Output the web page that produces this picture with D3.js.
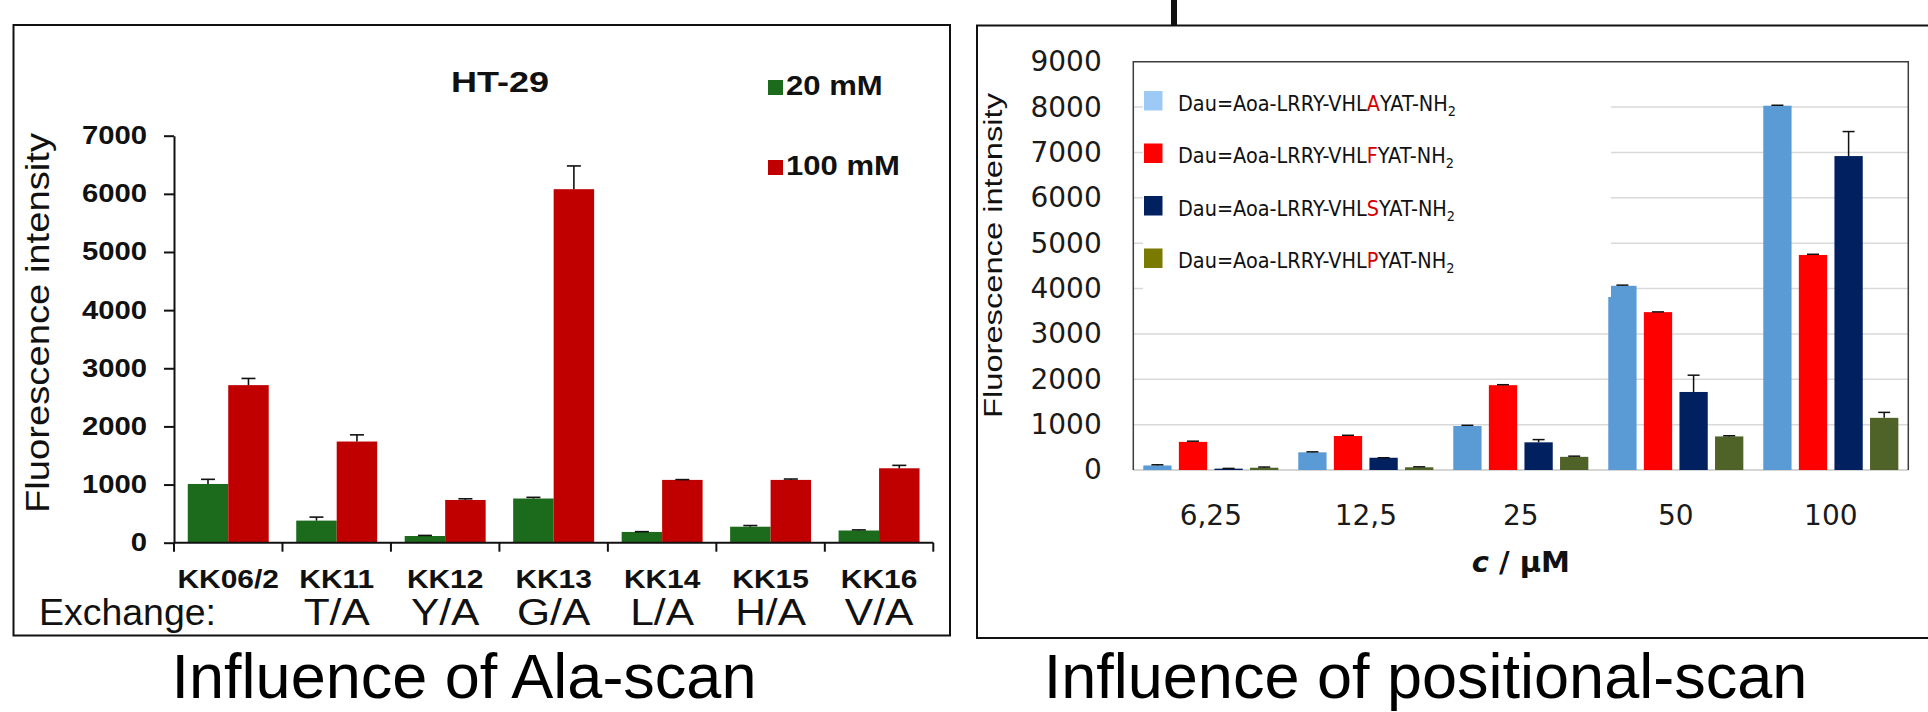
<!DOCTYPE html>
<html>
<head>
<meta charset="utf-8">
<script src="https://cdn.jsdelivr.net/npm/d3@7/dist/d3.min.js"></script>
<style>
  body { margin: 0; background: #fff; }
  svg { display: block; }
  .arial { font-family: "Liberation Sans", Arial, sans-serif; }
  .tahoma { font-family: "DejaVu Sans", Verdana, sans-serif; }
</style>
</head>
<body>
<svg id="chart" width="1928" height="712"></svg>
<script>
// left panel: Ala-scan, HT-29
const alaCompounds = ['KK06/2', 'KK11', 'KK12', 'KK13', 'KK14', 'KK15', 'KK16'];
const alaExchange = ['', 'T/A', 'Y/A', 'G/A', 'L/A', 'H/A', 'V/A'];
const alaSeries = ['20 mM', '100 mM'];
const ala20 = [1010, 380, 115, 760, 185, 275, 210];
const ala20Err = [80, 60, 10, 20, 5, 20, 10];
const ala100 = [2710, 1740, 735, 6080, 1080, 1080, 1280];
const ala100Err = [115, 115, 20, 400, 5, 15, 50];
const alaTicks = [0, 1000, 2000, 3000, 4000, 5000, 6000, 7000];

// right panel: positional scan
const posConc = ['6,25', '12,5', '25', '50', '100'];
const posLetters = ['A', 'F', 'S', 'P'];
const posA = [100, 390, 970, 4060, 8030];
const posAErr = [15, 10, 15, 15, 10];
const posF = [620, 750, 1870, 3480, 4740];
const posFErr = [15, 15, 10, 5, 15];
const posS = [30, 270, 610, 1720, 6920];
const posSErr = [5, 0, 60, 370, 540];
const posP = [50, 60, 290, 740, 1150];
const posPErr = [15, 10, 15, 15, 120];
const posTicks = [0, 1000, 2000, 3000, 4000, 5000, 6000, 7000, 8000, 9000];

const alaColors = { '20 mM': '#1c6b1c', '100 mM': '#c00000' };
const posBarColors = { A: '#5b9bd5', F: '#ff0000', S: '#002060', P: '#4f6228' };
const posKeyColors = { A: '#9ccaf5', F: '#ff0000', S: '#002060', P: '#7a7a00' };

// the left figure was pasted in wider than its fonts: widen glyphs by k
const stretch = (sel, k) => sel.each(function () {
  const w = this.getComputedTextLength();
  if (w > 0) {
    d3.select(this).attr('textLength', w * k).attr('lengthAdjust', 'spacingAndGlyphs');
  }
});

const svg = d3.select('#chart');

/* ---------- frames ---------- */
svg.append('rect')
  .attr('x', 13.5).attr('y', 25).attr('width', 936.5).attr('height', 610.5)
  .attr('fill', 'none').attr('stroke', '#111').attr('stroke-width', 2);
svg.append('rect')
  .attr('x', 977).attr('y', 25.5).attr('width', 960).attr('height', 612.5)
  .attr('fill', 'none').attr('stroke', '#111').attr('stroke-width', 2);
svg.append('rect')
  .attr('x', 1171).attr('y', 0).attr('width', 6).attr('height', 26)
  .attr('fill', '#111');

/* ---------- left: Ala-scan ---------- */
const left = svg.append('g').classed('arial', true);
const yA = d3.scaleLinear().domain([0, 7000]).range([542.7, 135.7]);
const xA = d3.scaleBand().domain(alaCompounds).range([174, 933.3]);
const xAin = d3.scaleBand().domain(alaSeries).range([0, xA.bandwidth()]).paddingOuter(0.34);

const alaRows = [];
alaCompounds.forEach((c, i) => {
  alaRows.push({ c, s: '20 mM', v: ala20[i], e: ala20Err[i] });
  alaRows.push({ c, s: '100 mM', v: ala100[i], e: ala100Err[i] });
});

left.append('g')
  .selectAll('rect')
  .data(alaRows)
  .enter()
  .append('rect')
  .attr('x', d => xA(d.c) + xAin(d.s))
  .attr('width', xAin.bandwidth())
  .attr('y', d => yA(d.v))
  .attr('height', d => yA(0) - yA(d.v))
  .attr('fill', d => alaColors[d.s]);

const alaErr = left.append('g').attr('stroke', '#111').attr('stroke-width', 1.6);
alaErr.selectAll('line.stem')
  .data(alaRows)
  .enter()
  .append('line')
  .classed('stem', true)
  .attr('x1', d => xA(d.c) + xAin(d.s) + (xAin.bandwidth() / 2))
  .attr('x2', d => xA(d.c) + xAin(d.s) + (xAin.bandwidth() / 2))
  .attr('y1', d => yA(d.v))
  .attr('y2', d => yA(d.v + d.e));
alaErr.selectAll('line.cap')
  .data(alaRows)
  .enter()
  .append('line')
  .classed('cap', true)
  .attr('x1', d => xA(d.c) + xAin(d.s) + (xAin.bandwidth() / 2) - 7)
  .attr('x2', d => xA(d.c) + xAin(d.s) + (xAin.bandwidth() / 2) + 7)
  .attr('y1', d => yA(d.v + d.e))
  .attr('y2', d => yA(d.v + d.e));

const gYA = left.append('g')
  .attr('transform', `translate(${xA.range()[0]},0)`)
  .call(d3.axisLeft(yA).tickValues(alaTicks).tickFormat(d3.format('d'))
    .tickSize(10).tickSizeOuter(0).tickPadding(17));
gYA.select('.domain').attr('stroke', '#111').attr('stroke-width', 2);
gYA.selectAll('.tick line').attr('stroke', '#111').attr('stroke-width', 2);
gYA.selectAll('.tick text')
  .attr('font-family', '"Liberation Sans", Arial, sans-serif')
  .attr('font-size', 25).attr('font-weight', 'bold').attr('fill', '#111')
  .call(stretch, 1.17);

// x axis line with ticks on category boundaries
left.append('line')
  .attr('x1', xA.range()[0]).attr('x2', xA.range()[1])
  .attr('y1', yA(0)).attr('y2', yA(0))
  .attr('stroke', '#111').attr('stroke-width', 2);
left.selectAll('line.bound')
  .data(alaCompounds.map(c => xA(c)).concat([xA.range()[1]]))
  .enter()
  .append('line')
  .classed('bound', true)
  .attr('x1', d => d).attr('x2', d => d)
  .attr('y1', yA(0)).attr('y2', yA(0) + 9)
  .attr('stroke', '#111').attr('stroke-width', 2);

left.selectAll('text.cmp')
  .data(alaCompounds)
  .enter()
  .append('text')
  .classed('cmp', true)
  .attr('x', d => xA(d) + (xA.bandwidth() / 2))
  .attr('y', 588)
  .attr('text-anchor', 'middle')
  .attr('font-size', 26).attr('font-weight', 'bold').attr('fill', '#111')
  .text(d => d)
  .call(stretch, 1.15);

left.selectAll('text.exch')
  .data(alaExchange)
  .enter()
  .append('text')
  .classed('exch', true)
  .attr('x', (d, i) => xA(alaCompounds[i]) + (xA.bandwidth() / 2))
  .attr('y', 625)
  .attr('text-anchor', 'middle')
  .attr('font-size', 36).attr('fill', '#111')
  .text(d => d)
  .call(stretch, 1.18);
left.append('text')
  .attr('x', 39).attr('y', 625)
  .attr('font-size', 36).attr('fill', '#111')
  .attr('textLength', 177).attr('lengthAdjust', 'spacingAndGlyphs')
  .text('Exchange:');

left.append('text')
  .attr('transform', 'translate(49,323) rotate(-90)')
  .attr('text-anchor', 'middle')
  .attr('font-size', 33).attr('fill', '#111')
  .attr('textLength', 380).attr('lengthAdjust', 'spacingAndGlyphs')
  .text('Fluorescence intensity');

left.append('text')
  .attr('x', 500).attr('y', 92)
  .attr('text-anchor', 'middle')
  .attr('font-size', 30).attr('font-weight', 'bold').attr('fill', '#111')
  .text('HT-29')
  .call(stretch, 1.2);

const alaKey = left.selectAll('g.key')
  .data(alaSeries)
  .enter()
  .append('g')
  .classed('key', true)
  .attr('transform', (d, i) => `translate(768,${80 + (i * 80)})`);
alaKey.append('rect')
  .attr('width', 15).attr('height', 15)
  .attr('fill', d => alaColors[d]);
alaKey.append('text')
  .attr('x', 18).attr('y', 15)
  .attr('font-size', 27).attr('font-weight', 'bold').attr('fill', '#111')
  .text(d => d)
  .call(stretch, 1.15);

/* ---------- right: positional scan ---------- */
const right = svg.append('g').classed('tahoma', true);
const yP = d3.scaleLinear().domain([0, 9000]).range([470, 61.7]);
const xP = d3.scaleBand().domain(posConc).range([1133.3, 1908.3]);
const xPin = d3.scaleBand().domain(posLetters).range([0, xP.bandwidth()])
  .paddingInner(0.205).paddingOuter(0.28);

right.append('g')
  .selectAll('line')
  .data(posTicks.filter(t => t > 0 && t < 9000))
  .enter()
  .append('line')
  .attr('x1', xP.range()[0]).attr('x2', xP.range()[1])
  .attr('y1', d => yP(d)).attr('y2', d => yP(d))
  .attr('stroke', '#d9d9d9').attr('stroke-width', 1.5);
right.append('line')
  .attr('x1', xP.range()[0]).attr('x2', xP.range()[1])
  .attr('y1', yP(0)).attr('y2', yP(0))
  .attr('stroke', '#c8c8c8').attr('stroke-width', 1.5);
right.append('path')
  .attr('d', `M${xP.range()[0]},${yP(0)}V${yP(9000)}H${xP.range()[1]}V${yP(0)}`)
  .attr('fill', 'none').attr('stroke', '#3c3c3c').attr('stroke-width', 1.5);

const posVals = { A: posA, F: posF, S: posS, P: posP };
const posErrs = { A: posAErr, F: posFErr, S: posSErr, P: posPErr };
const posRows = [];
posConc.forEach((c, i) => {
  posLetters.forEach(l => {
    posRows.push({ c, l, v: posVals[l][i], e: posErrs[l][i] });
  });
});

right.append('g')
  .selectAll('rect')
  .data(posRows)
  .enter()
  .append('rect')
  .attr('x', d => xP(d.c) + xPin(d.l))
  .attr('width', xPin.bandwidth())
  .attr('y', d => yP(d.v))
  .attr('height', d => yP(0) - yP(d.v))
  .attr('fill', d => posBarColors[d.l]);

const posErr = right.append('g').attr('stroke', '#111').attr('stroke-width', 1.5);
posErr.selectAll('line.stem')
  .data(posRows)
  .enter()
  .append('line')
  .classed('stem', true)
  .attr('x1', d => xP(d.c) + xPin(d.l) + (xPin.bandwidth() / 2))
  .attr('x2', d => xP(d.c) + xPin(d.l) + (xPin.bandwidth() / 2))
  .attr('y1', d => yP(d.v))
  .attr('y2', d => yP(d.v + d.e));
posErr.selectAll('line.cap')
  .data(posRows)
  .enter()
  .append('line')
  .classed('cap', true)
  .attr('x1', d => xP(d.c) + xPin(d.l) + (xPin.bandwidth() / 2) - 6)
  .attr('x2', d => xP(d.c) + xPin(d.l) + (xPin.bandwidth() / 2) + 6)
  .attr('y1', d => yP(d.v + d.e))
  .attr('y2', d => yP(d.v + d.e));

// legend sits on a white box over the grid
right.append('rect')
  .attr('x', 1143).attr('y', 64).attr('width', 468).attr('height', 233)
  .attr('fill', '#fff');
const posKey = right.selectAll('g.key')
  .data(posLetters)
  .enter()
  .append('g')
  .classed('key', true)
  .attr('transform', (d, i) => `translate(1144,${91 + (i * 52.5)})`);
posKey.append('rect')
  .attr('width', 18.5).attr('height', 19.5)
  .attr('fill', d => posKeyColors[d]);
const keyText = posKey.append('text')
  .attr('transform', 'translate(34,19.5) scale(0.92,1)')
  .attr('font-size', 21).attr('fill', '#111');
keyText.append('tspan').text('Dau=Aoa-LRRY-VHL');
keyText.append('tspan').attr('fill', '#d40000').text(d => d);
keyText.append('tspan').text('YAT-NH');
keyText.append('tspan').attr('font-size', 14).attr('dy', 5).text('2');

const gYP = right.append('g')
  .attr('transform', `translate(${xP.range()[0]},0)`)
  .call(d3.axisLeft(yP).tickValues(posTicks).tickFormat(d3.format('d'))
    .tickSize(0).tickPadding(31.6));
gYP.select('.domain').remove();
gYP.selectAll('.tick text')
  .attr('font-family', '"DejaVu Sans", Verdana, sans-serif')
  .attr('font-size', 28).attr('fill', '#1a1a1a');

right.selectAll('text.conc')
  .data(posConc)
  .enter()
  .append('text')
  .classed('conc', true)
  .attr('x', d => xP(d) + (xP.bandwidth() / 2))
  .attr('y', 525)
  .attr('text-anchor', 'middle')
  .attr('font-size', 28).attr('fill', '#1a1a1a')
  .text(d => d);

const xTitle = right.append('text')
  .attr('x', (xP.range()[0] + xP.range()[1]) / 2).attr('y', 572)
  .attr('text-anchor', 'middle')
  .attr('font-size', 29).attr('font-weight', 'bold').attr('fill', '#111');
xTitle.append('tspan').attr('font-style', 'italic').text('c');
xTitle.append('tspan').text(' / \u00b5M');

right.append('text')
  .attr('transform', 'translate(1002,255.5) rotate(-90)')
  .attr('text-anchor', 'middle')
  .attr('font-family', '"Liberation Sans", Arial, sans-serif')
  .attr('font-size', 25).attr('fill', '#111')
  .attr('textLength', 325).attr('lengthAdjust', 'spacingAndGlyphs')
  .text('Fluorescence intensity');

/* ---------- captions ---------- */
svg.append('text')
  .classed('arial', true)
  .attr('x', 464).attr('y', 698)
  .attr('text-anchor', 'middle')
  .attr('font-size', 63).attr('fill', '#000')
  .text('Influence of Ala-scan');
svg.append('text')
  .classed('arial', true)
  .attr('x', 1425.5).attr('y', 698)
  .attr('text-anchor', 'middle')
  .attr('font-size', 63).attr('fill', '#000')
  .text('Influence of positional-scan');
</script>
</body>
</html>
